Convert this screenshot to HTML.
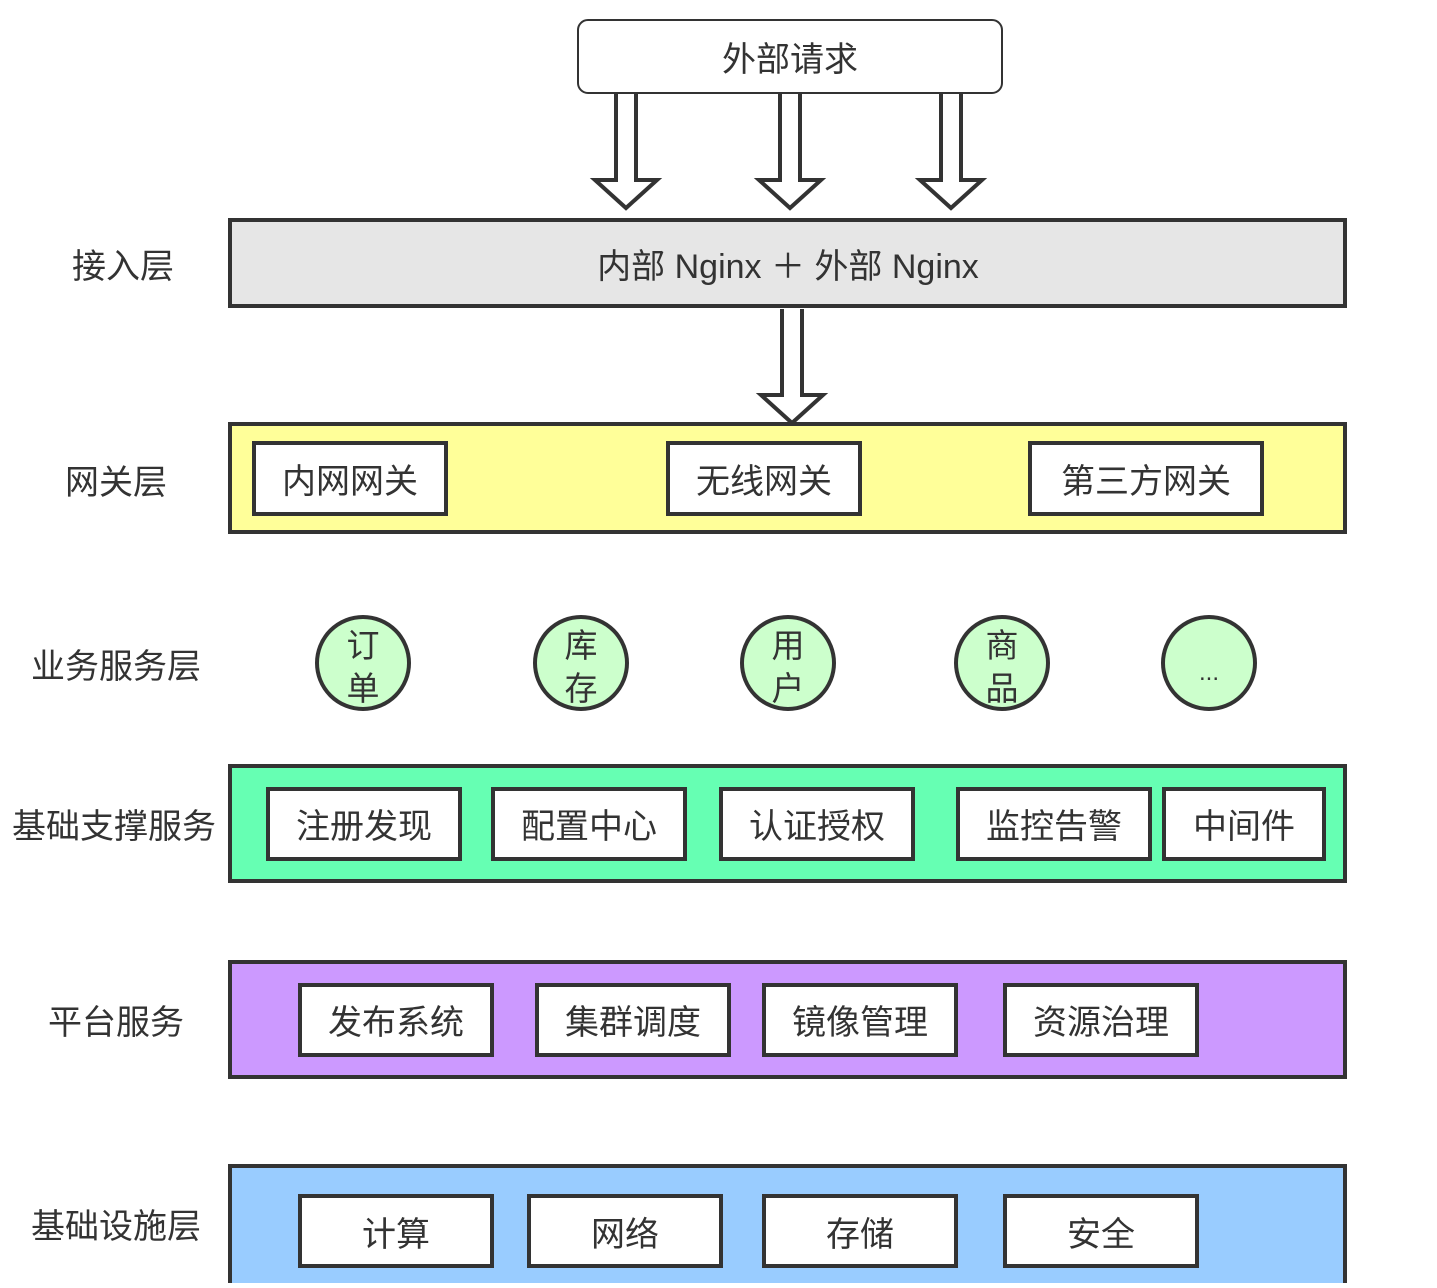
<!DOCTYPE html>
<html><head><meta charset="utf-8"><style>
body{margin:0;background:#fff;}
svg text{font-family:"Liberation Sans","Noto Sans CJK SC",sans-serif;fill:#333;}
</style></head><body>
<svg width="1437" height="1283" viewBox="0 0 1437 1283" xmlns="http://www.w3.org/2000/svg">
<defs>
<g id="arr"><path d="M-10,0 V86 H-31 L0,114 L31,86 H10 V0" fill="#fff" stroke="#333" stroke-width="4" stroke-linejoin="miter"/></g>
</defs>
<rect x="578" y="20" width="424" height="73" rx="10" fill="#fff" stroke="#333" stroke-width="2"/>
<text x="790" y="71" font-size="34" text-anchor="middle">外部请求</text>
<use href="#arr" x="626" y="94"/>
<use href="#arr" x="790" y="94"/>
<use href="#arr" x="951" y="94"/>
<rect x="230" y="220" width="1115" height="86" fill="#e6e6e6" stroke="#333" stroke-width="4"/>
<text x="788" y="278" font-size="34" text-anchor="middle">内部 Nginx ＋ 外部 Nginx</text>
<use href="#arr" x="792" y="309"/>
<rect x="230" y="424" width="1115" height="108" fill="#ffff99" stroke="#333" stroke-width="4"/>
<g fill="#fff" stroke="#333" stroke-width="4">
<rect x="254" y="443" width="192" height="71"/><rect x="668" y="443" width="192" height="71"/><rect x="1030" y="443" width="232" height="71"/>
</g>
<g font-size="34" text-anchor="middle">
<text x="350" y="493">内网网关</text><text x="764" y="493">无线网关</text><text x="1146" y="493">第三方网关</text>
</g>
<g fill="#ccffcc" stroke="#333" stroke-width="4">
<circle cx="363" cy="663" r="46"/><circle cx="581" cy="663" r="46"/><circle cx="788" cy="663" r="46"/><circle cx="1002" cy="663" r="46"/><circle cx="1209" cy="663" r="46"/>
</g>
<g font-size="33" text-anchor="middle">
<text x="363" y="657">订</text><text x="363" y="700">单</text>
<text x="581" y="657">库</text><text x="581" y="700">存</text>
<text x="788" y="657">用</text><text x="788" y="700">户</text>
<text x="1002" y="657">商</text><text x="1002" y="700">品</text>
<text x="1209" y="680" font-size="24">...</text>
</g>
<rect x="230" y="766" width="1115" height="115" fill="#66ffb3" stroke="#333" stroke-width="4"/>
<g fill="#fff" stroke="#333" stroke-width="4">
<rect x="268" y="789" width="192" height="70"/><rect x="493" y="789" width="192" height="70"/><rect x="721" y="789" width="192" height="70"/><rect x="958" y="789" width="192" height="70"/><rect x="1164" y="789" width="160" height="70"/>
</g>
<g font-size="34" text-anchor="middle">
<text x="364" y="838">注册发现</text><text x="589" y="838">配置中心</text><text x="817" y="838">认证授权</text><text x="1054" y="838">监控告警</text><text x="1244" y="838">中间件</text>
</g>
<rect x="230" y="962" width="1115" height="115" fill="#cc99ff" stroke="#333" stroke-width="4"/>
<g fill="#fff" stroke="#333" stroke-width="4">
<rect x="300" y="985" width="192" height="70"/><rect x="537" y="985" width="192" height="70"/><rect x="764" y="985" width="192" height="70"/><rect x="1005" y="985" width="192" height="70"/>
</g>
<g font-size="34" text-anchor="middle">
<text x="396" y="1034">发布系统</text><text x="633" y="1034">集群调度</text><text x="860" y="1034">镜像管理</text><text x="1101" y="1034">资源治理</text>
</g>
<rect x="230" y="1166" width="1115" height="120" fill="#99ccff" stroke="#333" stroke-width="4"/>
<g fill="#fff" stroke="#333" stroke-width="4">
<rect x="300" y="1196" width="192" height="70"/><rect x="529" y="1196" width="192" height="70"/><rect x="764" y="1196" width="192" height="70"/><rect x="1005" y="1196" width="192" height="70"/>
</g>
<g font-size="34" text-anchor="middle">
<text x="396" y="1246">计算</text><text x="625" y="1246">网络</text><text x="860" y="1246">存储</text><text x="1101" y="1246">安全</text>
</g>
<g font-size="34" text-anchor="middle">
<text x="123" y="278">接入层</text>
<text x="116" y="494">网关层</text>
<text x="116" y="678">业务服务层</text>
<text x="114" y="838">基础支撑服务</text>
<text x="116" y="1034">平台服务</text>
<text x="116" y="1238">基础设施层</text>
</g>
</svg>
</body></html>
